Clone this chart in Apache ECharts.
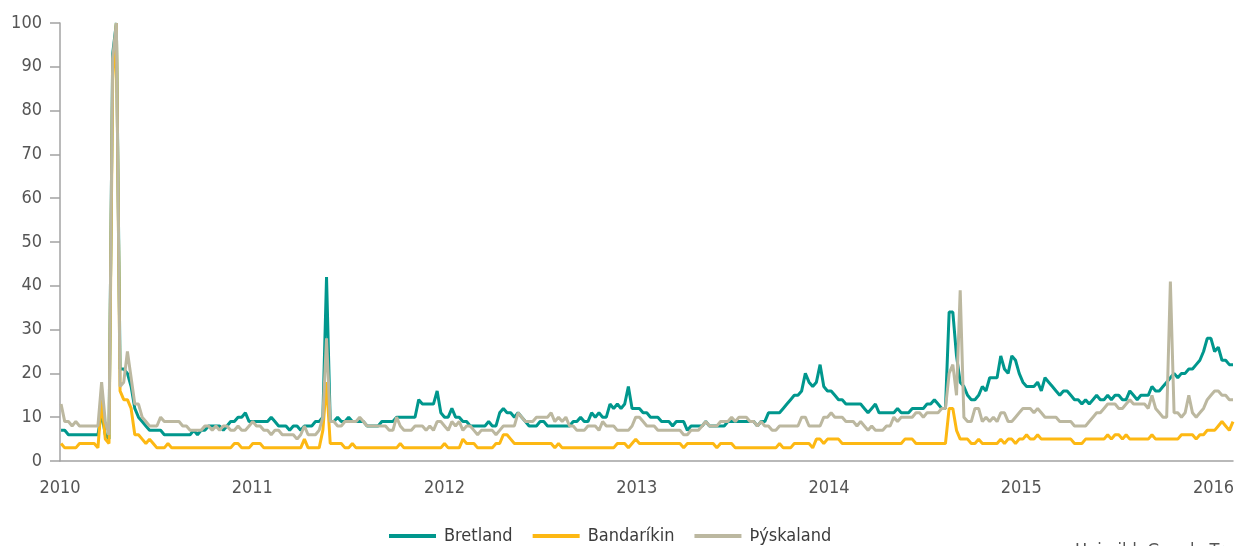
<!DOCTYPE html>
<html>
<head>
<meta charset="utf-8">
<title>Bretland, Bandaríkin, Þýskaland</title>
<script src="https://cdn.jsdelivr.net/npm/echarts@6/dist/echarts.min.js"></script>
<style>
  html, body { margin: 0; padding: 0; background: #fff; }
  #chart { width: 1245px; height: 546px; }
</style>
</head>
<body>
<div id="chart"></div>
<script>
// vikuleg gögn, fyrsta vika 3. janúar 2010
const firstWeek = '2010-01-03';
const seriesNames = ['Bretland', 'Bandaríkin', 'Þýskaland'];
const yTicks = [0, 10, 20, 30, 40, 50, 60, 70, 80, 90, 100];
const sourceText = 'Heimild: Google Trends';

const bretland = [
  7,7,6,6,6,6,6,6,6,6, 6,11,6,5,93,100,21,21,20,17,
  12,10,9,8,7,7,7,7,6,6, 6,6,6,6,6,6,7,6,7,7,
  8,8,8,8,7,8,9,9,10,10, 11,9,9,9,9,9,9,10,9,8,
  8,8,7,8,8,7,8,8,8,9, 9,10,42,9,9,10,9,9,10,9,
  9,9,9,8,8,8,8,9,9,9, 9,10,10,10,10,10,10,14,13,13,
  13,13,16,11,10,10,12,10,10,9, 9,8,8,8,8,8,9,8,8,11,
  12,11,11,10,11,10,9,8,8,8, 9,9,8,8,8,8,8,8,8,9,
  9,10,9,9,11,10,11,10,10,13, 12,13,12,13,17,12,12,12,11,11,
  10,10,10,9,9,9,8,9,9,9, 7,8,8,8,8,9,8,8,8,8,
  8,9,9,9,9,9,9,9,9,8, 9,9,11,11,11,11,12,13,14,15,
  15,16,20,18,17,18,22,17,16,16, 15,14,14,13,13,13,13,13,12,11,
  12,13,11,11,11,11,11,12,11,11, 11,12,12,12,12,13,13,14,13,12,
  12,34,34,24,18,17,15,14,14,15, 17,16,19,19,19,24,21,20,24,23,
  20,18,17,17,17,18,16,19,18,17, 16,15,16,16,15,14,14,13,14,13,
  14,15,14,14,15,14,15,15,14,14, 16,15,14,15,15,15,17,16,16,17,
  18,19,20,19,20,20,21,21,22,23, 25,28,28,25,26,23,23,22,22
];

const bandarikin = [
  4,3,3,3,3,4,4,4,4,4, 3,14,5,4,87,100,16,14,14,12,
  6,6,5,4,5,4,3,3,3,4, 3,3,3,3,3,3,3,3,3,3,
  3,3,3,3,3,3,3,4,4,3, 3,3,4,4,4,3,3,3,3,3,
  3,3,3,3,3,3,5,3,3,3, 3,7,18,4,4,4,4,3,3,4,
  3,3,3,3,3,3,3,3,3,3, 3,3,4,3,3,3,3,3,3,3,
  3,3,3,3,4,3,3,3,3,5, 4,4,4,3,3,3,3,3,4,4,
  6,6,5,4,4,4,4,4,4,4, 4,4,4,4,3,4,3,3,3,3,
  3,3,3,3,3,3,3,3,3,3, 3,4,4,4,3,4,5,4,4,4,
  4,4,4,4,4,4,4,4,4,3, 4,4,4,4,4,4,4,4,3,4,
  4,4,4,3,3,3,3,3,3,3, 3,3,3,3,3,4,3,3,3,4,
  4,4,4,4,3,5,5,4,5,5, 5,5,4,4,4,4,4,4,4,4,
  4,4,4,4,4,4,4,4,4,5, 5,5,4,4,4,4,4,4,4,4,
  4,12,12,7,5,5,5,4,4,5, 4,4,4,4,4,5,4,5,5,4,
  5,5,6,5,5,6,5,5,5,5, 5,5,5,5,5,4,4,4,5,5,
  5,5,5,5,6,5,6,6,5,6, 5,5,5,5,5,5,6,5,5,5,
  5,5,5,5,6,6,6,6,5,6, 6,7,7,7,8,9,8,7,9
];

const thyskaland = [
  13,9,9,8,9,8,8,8,8,8, 8,18,9,6,92,100,17,18,25,19,
  13,13,10,9,8,8,8,10,9,9, 9,9,9,8,8,7,7,7,7,8,
  8,7,8,7,8,8,7,7,8,7, 7,8,9,8,8,7,7,6,7,7,
  6,6,6,6,5,6,8,6,6,6, 7,10,28,9,9,8,8,9,9,9,
  9,10,9,8,8,8,8,8,8,7, 7,10,8,7,7,7,8,8,8,7,
  8,7,9,9,8,7,9,8,9,7, 8,8,7,6,7,7,7,7,6,7,
  8,8,8,8,11,10,9,9,9,10, 10,10,10,11,9,10,9,10,8,8,
  7,7,7,8,8,8,7,9,8,8, 8,7,7,7,7,8,10,10,9,8,
  8,8,7,7,7,7,7,7,7,6, 6,7,7,7,8,9,8,8,8,9,
  9,9,10,9,10,10,10,9,9,8, 9,8,8,7,7,8,8,8,8,8,
  8,10,10,8,8,8,8,10,10,11, 10,10,10,9,9,9,8,9,8,7,
  8,7,7,7,8,8,10,9,10,10, 10,10,11,11,10,11,11,11,11,12,
  12,20,22,15,39,10,9,9,12,12, 9,10,9,10,9,11,11,9,9,10,
  11,12,12,12,11,12,11,10,10,10, 10,9,9,9,9,8,8,8,8,9,
  10,11,11,12,13,13,13,12,12,13, 14,13,13,13,13,12,15,12,11,10,
  10,41,11,11,10,11,15,11,10,11, 12,14,15,16,16,15,15,14,14
];

const colors = ['#00978d', '#fdb813', '#bcb8a0'];
const fontFamily = "'DejaVu Sans Condensed', 'Liberation Sans', sans-serif";

// vika -> ár með aukastöfum
function yearFraction(i) {
  const t = Date.parse(firstWeek + 'T00:00:00Z') + i * 7 * 86400000;
  const y = new Date(t).getUTCFullYear();
  const start = Date.UTC(y, 0, 1);
  const end = Date.UTC(y + 1, 0, 1);
  return y + (t - start) / (end - start);
}

function toPairs(values) {
  return values.map((v, i) => [yearFraction(i), v]);
}

const chart = echarts.init(document.getElementById('chart'));

const option = {
  animation: false,
  color: colors,
  grid: {
    left: 60,
    right: 12,
    top: 23,
    bottom: 85
  },
  legend: {
    data: seriesNames,
    left: 389,
    top: 527,
    padding: 0,
    icon: 'rect',
    itemWidth: 47,
    itemHeight: 4,
    itemGap: 20,
    textStyle: {
      fontFamily: fontFamily,
      fontSize: 18,
      color: '#3c3c3c',
      padding: [0, 0, 0, 3]
    }
  },
  xAxis: {
    type: 'value',
    min: 2010,
    max: 'dataMax',
    interval: 1,
    axisLine: { lineStyle: { color: '#a3a3a3', width: 1.5 } },
    axisTick: { show: false },
    splitLine: { show: false },
    axisLabel: {
      margin: 18,
      showMaxLabel: false,
      fontFamily: fontFamily,
      fontSize: 18,
      color: '#555',
      formatter: (v) => String(Math.round(v))
    }
  },
  yAxis: {
    type: 'value',
    min: yTicks[0],
    max: yTicks[yTicks.length - 1],
    interval: 10,
    axisLine: { show: true, lineStyle: { color: '#a3a3a3', width: 1.5 } },
    axisTick: { show: true, length: 10, lineStyle: { color: '#a3a3a3', width: 1.5 } },
    splitLine: { show: false },
    axisLabel: {
      margin: 18,
      fontFamily: fontFamily,
      fontSize: 18,
      color: '#555'
    }
  },
  series: [bretland, bandarikin, thyskaland].map((values, k) => ({
    name: seriesNames[k],
    type: 'line',
    data: toPairs(values),
    showSymbol: false,
    symbol: 'none',
    lineStyle: { width: 3, color: colors[k] },
    itemStyle: { color: colors[k] }
  })),
  graphic: [
    {
      type: 'text',
      left: 1075,
      top: 542,
      style: {
        text: sourceText,
        font: '18px ' + fontFamily,
        fill: '#555'
      }
    }
  ]
};

chart.setOption(option);
</script>
</body>
</html>
